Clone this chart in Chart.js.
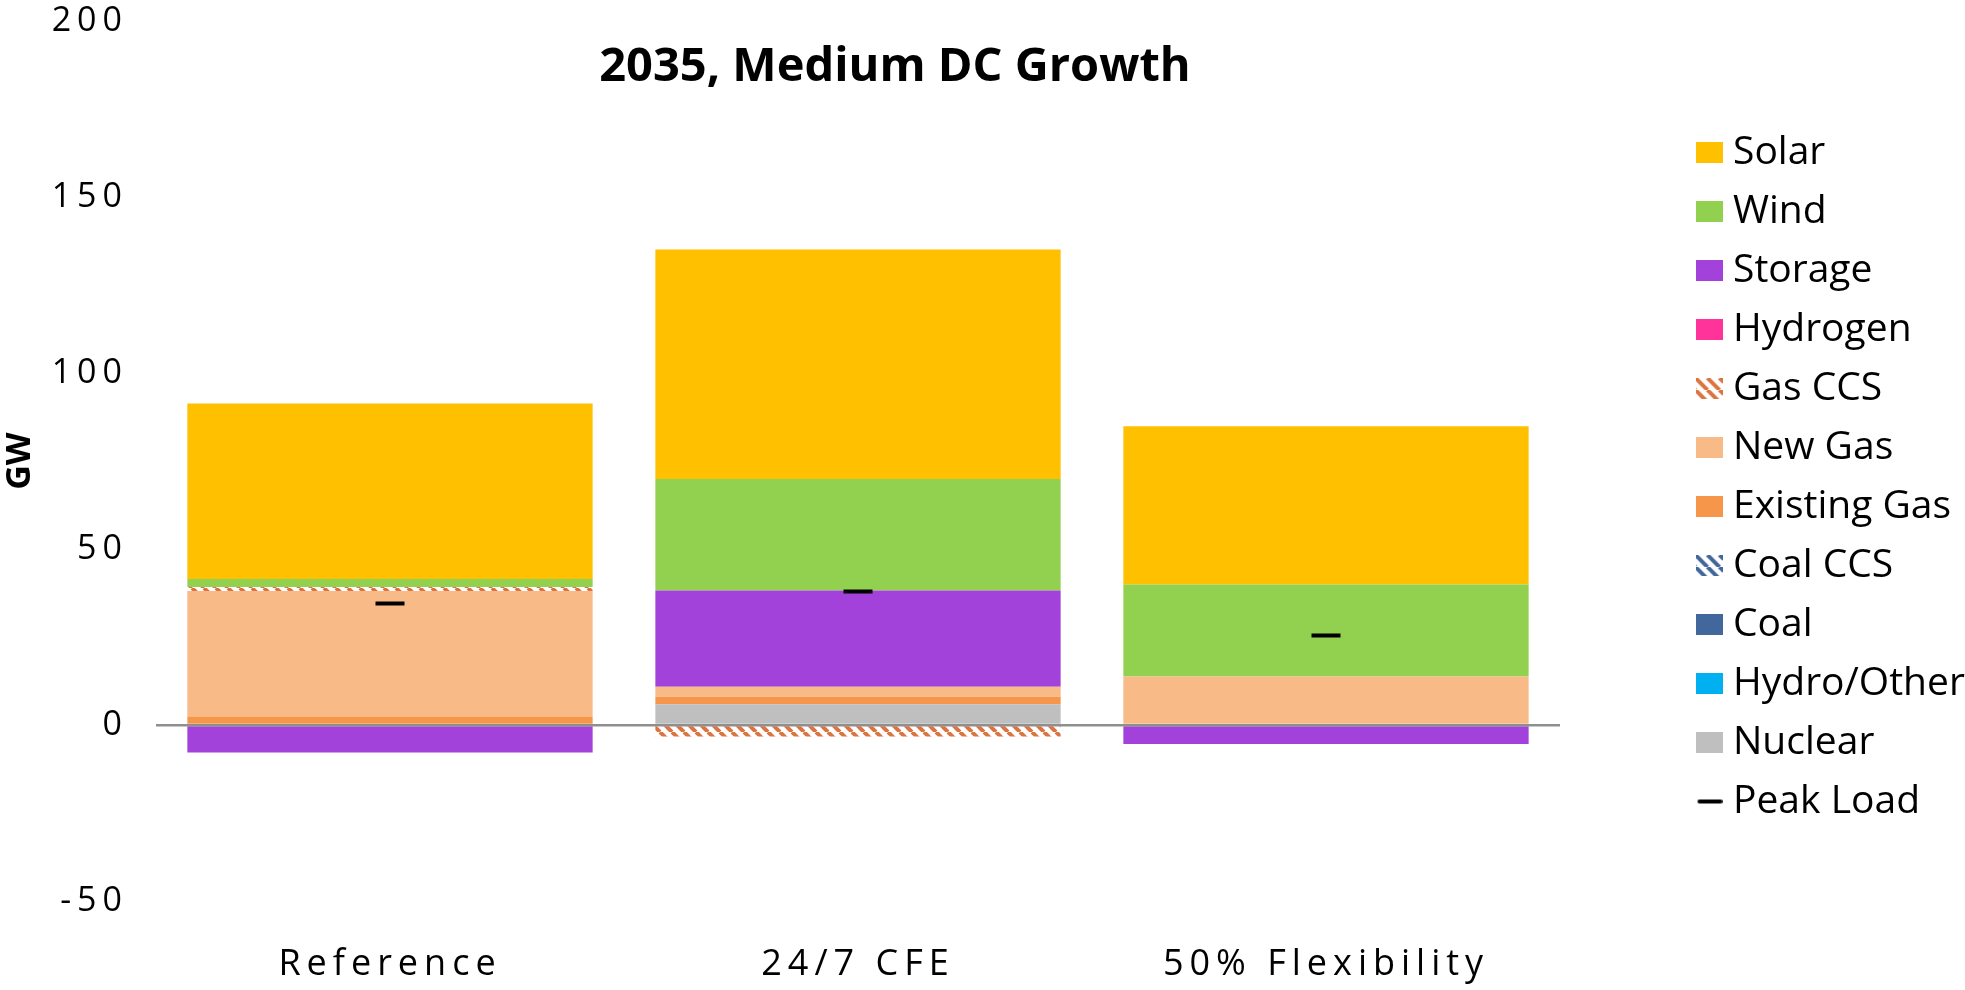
<!DOCTYPE html>
<html>
<head>
<meta charset="utf-8">
<script src="https://cdn.jsdelivr.net/npm/chart.js@4.4.1/dist/chart.umd.min.js"></script>
<style>
  html, body { margin: 0; padding: 0; background: #fff; }
  #wrap { position: relative; width: 1965px; height: 990px; }
  #title { position: absolute; left: 495px; top: 40px; width: 800px; text-align: center;
           font: bold 47px "Open Sans"; line-height: 47px; color: #000; }
</style>
</head>
<body>
<div id="wrap">
  <canvas id="genChart"></canvas>
  <div id="title">2035, Medium DC Growth</div>
</div>
<script>
// scenarios + capacity additions (GW)
const scenarios = ["Reference", "24/7 CFE", "50% Flexibility"];
const nuclear = [0, 5.9, 0];
const hydroOther = [0, 0, 0];
const coal = [0, 0, 0];
const coalCcs = [0, 0, 0];
const existingGas = [2.4, 2.1, 0];
const newGas = [35.7, 2.9, 13.8];
const gasCcs = [1.1, -3.3, 0];
const hydrogen = [0, 0, 0];
const storage = [-7.8, 27.3, -5.4];
const wind = [2.3, 31.7, 26.1];
const solar = [49.8, 65.2, 45.0];
const peakLoad = [34.5, 37.9, 25.4];
const yTicks = [-50, 0, 50, 100, 150, 200];

const canvas = document.getElementById("genChart");
const ctx = canvas.getContext("2d");

// diagonal hatch tile for the CCS series
function hatchTile(color) {
  const t = document.createElement("canvas");
  t.width = 12; t.height = 12;
  const g = t.getContext("2d");
  g.fillStyle = "#fff";
  g.fillRect(0, 0, 12, 12);
  g.strokeStyle = color;
  g.lineWidth = 4;
  g.beginPath();
  for (const o of [-12, 0, 12]) { g.moveTo(o, 0); g.lineTo(o + 12, 12); }
  g.stroke();
  return t;
}
const gasCcsTile = hatchTile("#DC7440");
const coalCcsTile = hatchTile("#41679D");

// legend icons
function swatch(fill) {
  const c = document.createElement("canvas");
  c.width = 27; c.height = 21;
  const g = c.getContext("2d");
  g.fillStyle = fill instanceof HTMLCanvasElement ? g.createPattern(fill, "repeat") : fill;
  g.fillRect(0, 0, 27, 21);
  return c;
}
function lineIcon() {
  const c = document.createElement("canvas");
  c.width = 27; c.height = 8;
  const g = c.getContext("2d");
  g.strokeStyle = "#000"; g.lineWidth = 4; g.lineCap = "round";
  g.beginPath(); g.moveTo(4, 4); g.lineTo(25, 4); g.stroke();
  return c;
}

const icons = {};
const bar = (label, data, color) => {
  icons[label] = swatch(color);
  return {
    type: "bar", label, data,
    backgroundColor: color instanceof HTMLCanvasElement ? ctx.createPattern(color, "repeat") : color,
    borderWidth: 0, stack: "gen", categoryPercentage: 0.866, barPercentage: 1
  };
};
icons["Peak Load"] = lineIcon();

// wider letter spacing on axis labels, fixed legend width
const tweaks = {
  id: "tweaks",
  beforeUpdate(chart) {
    const lg = chart.legend;
    if (lg && !lg._fixed) {
      const f = lg.fit;
      lg.fit = function () { f.call(this); this.width = 280.5; };
      lg._fixed = true;
    }
  },
  beforeDraw(chart) {
    for (const [id, ls] of [["x", "6px"], ["y", "6px"]]) {
      const s = chart.scales[id];
      if (s && !s._lsPatched) {
        const orig = s.drawLabels;
        s.drawLabels = function (area) {
          const c = this.ctx;
          c.letterSpacing = ls;
          orig.call(this, area);
          c.letterSpacing = "0px";
        };
        s._lsPatched = true;
      }
    }
  }
};

const datasets = [
  {
    type: "line", label: "Peak Load", data: peakLoad, stack: "peak",
    showLine: false, pointStyle: "line", pointRadius: 14.5, pointHoverRadius: 14.5,
    borderColor: "#000", backgroundColor: "#000", borderWidth: 4, pointBorderWidth: 4
  },
  bar("Nuclear", nuclear, "#BFBFBF"),
  bar("Hydro/Other", hydroOther, "#00B0F0"),
  bar("Coal", coal, "#41679D"),
  bar("Coal CCS", coalCcs, coalCcsTile),
  bar("Existing Gas", existingGas, "#F5964A"),
  bar("New Gas", newGas, "#F8BA87"),
  bar("Gas CCS", gasCcs, gasCcsTile),
  bar("Hydrogen", hydrogen, "#FF3399"),
  bar("Storage", storage, "#A341DB"),
  bar("Wind", wind, "#92D050"),
  bar("Solar", solar, "#FFC000")
];

new Chart(canvas, {
  data: { labels: scenarios, datasets },
  options: {
    responsive: true,
    maintainAspectRatio: false,
    animation: false,
    devicePixelRatio: 1,
    layout: { padding: { top: 21, left: 0, right: 0, bottom: 0 } },
    scales: {
      x: {
        stacked: true,
        grid: { display: false, drawTicks: false },
        border: { display: false },
        ticks: { padding: 42, color: "#000", font: { family: "Open Sans", size: 36 } },
        afterFit: s => { s.height = 89; }
      },
      y: {
        stacked: true, min: -50, max: 200, position: "left",
        afterBuildTicks: s => { s.ticks = yTicks.map(v => ({ value: v })); },
        afterFit: s => { s.width = 156; s.paddingTop = 0; s.paddingBottom = 0; },
        grid: {
          z: 1, drawTicks: false, lineWidth: 2.5,
          color: c => (c.tick && c.tick.value === 0 ? "#8f8f8f" : "rgba(0,0,0,0)")
        },
        border: { display: false },
        ticks: { padding: 28, color: "#000", font: { family: "Open Sans", size: 34 } },
        title: { display: true, text: "GW", color: "#000", padding: 0,
                 font: { family: "Open Sans", size: 34, weight: "bold" } }
      },
      yr: {
        position: "right", display: true,
        grid: { display: false }, border: { display: false }, ticks: { display: false },
        afterFit: s => { s.width = 124.5; }
      }
    },
    plugins: {
      tooltip: { enabled: false },
      legend: {
        position: "right", align: "start", reverse: true,
        title: { display: true, text: " ", font: { size: 10 }, padding: { top: 0, bottom: 80 } },
        labels: {
          usePointStyle: true, pointStyleWidth: 9, boxHeight: 21, padding: 20,
          color: "#000", font: { family: "Open Sans", size: 39 },
          generateLabels(chart) {
            const items = Chart.defaults.plugins.legend.labels.generateLabels(chart);
            items.forEach(it => { it.pointStyle = icons[it.text]; it.lineWidth = 0; });
            return items;
          }
        }
      }
    }
  },
  plugins: [tweaks]
});
</script>
</body>
</html>
